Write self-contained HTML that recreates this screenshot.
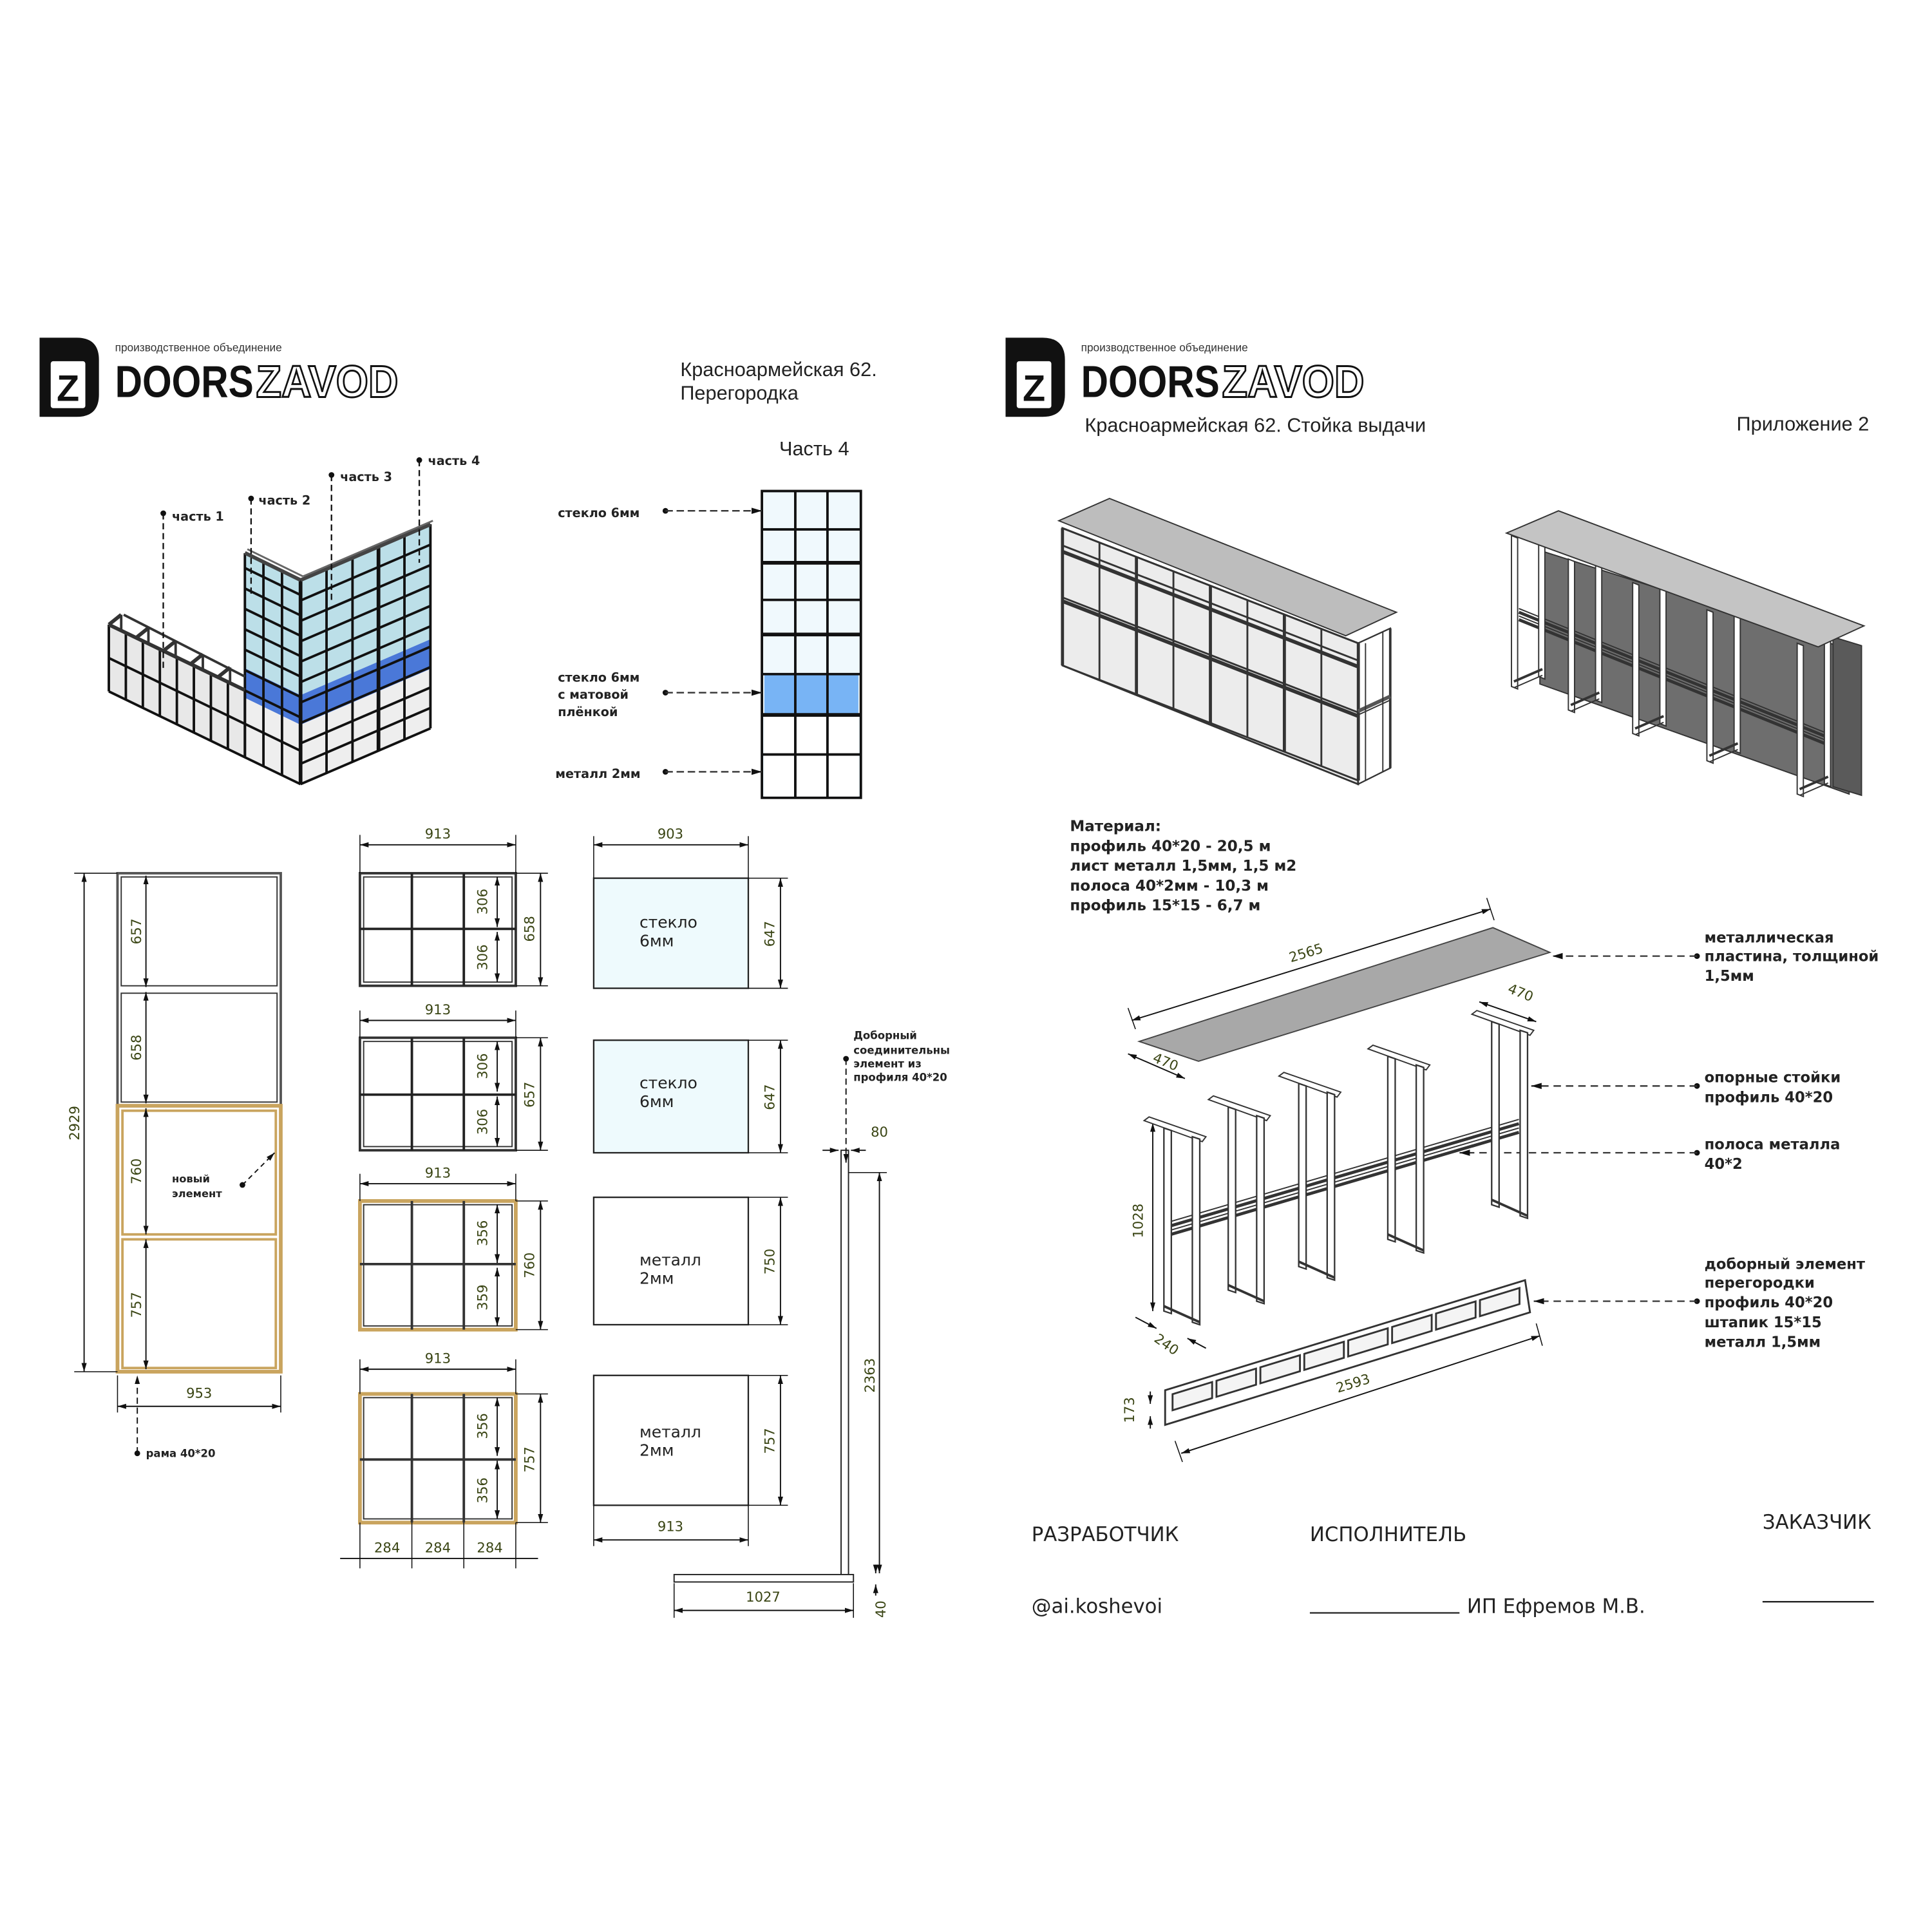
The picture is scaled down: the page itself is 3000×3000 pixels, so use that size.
<!DOCTYPE html>
<html><head><meta charset="utf-8"><style>
html,body{margin:0;padding:0;background:#fff}
svg{display:block}
text{font-family:"DejaVu Sans","Liberation Sans",sans-serif}
.t{font-family:"Liberation Sans",sans-serif}
.lb{font-size:10px;font-weight:bold;fill:#222}
.dm{font-size:11px;fill:#3a4514}
.sm{font-size:8.6px;font-weight:bold;fill:#222}
</style></head><body>
<svg id="s" width="3000" height="3000" viewBox="0 0 1562 1562" xmlns="http://www.w3.org/2000/svg">
<defs>
<marker id="a" viewBox="0 0 10 10" refX="10" refY="5" markerWidth="7" markerHeight="7" orient="auto-start-reverse"><path d="M0,2 L10,5 L0,8 z" fill="#111"/></marker>
</defs>
<rect width="1562" height="1562" fill="#fff"/>

<g id="logo1">
<path d="M32,273 H62 Q80,273 80,291 V319 Q80,337 62,337 H32 Z" fill="#111"/>
<rect x="41" y="292" width="28" height="38" rx="2" fill="#fff"/>
<text x="55" y="324" text-anchor="middle" class="t" style="font-size:30px;font-weight:900" fill="#111">Z</text>
<text x="93" y="284" class="t" style="font-size:9px" fill="#333">производственное объединение</text>
<text x="93" y="321" class="t" style="font-size:36px;font-weight:900" fill="#111" textLength="112" lengthAdjust="spacingAndGlyphs">DOORS</text>
<text x="207" y="321" class="t" style="font-size:36px;font-weight:900" fill="#fff" stroke="#111" stroke-width="1.5" textLength="115" lengthAdjust="spacingAndGlyphs">ZAVOD</text>
</g>
<use href="#logo1" transform="translate(781,0)"/>

<text x="550" y="304" class="t" style="font-size:16px" fill="#222">Красноармейская 62.</text>
<text x="550" y="323" class="t" style="font-size:16px" fill="#222">Перегородка</text>
<text x="630" y="368" class="t" style="font-size:16px" fill="#222">Часть 4</text>
<text x="877" y="349" class="t" style="font-size:16px" fill="#222">Красноармейская 62. Стойка выдачи</text>
<text x="1404" y="348" class="t" style="font-size:16px" fill="#222">Приложение 2</text>

<g class="lb">
<text x="139" y="421">часть 1</text><text x="209" y="408">часть 2</text>
<text x="275" y="389">часть 3</text><text x="346" y="376">часть 4</text>
</g>

<rect x="616" y="397" width="80" height="248" fill="#f0f9fd" stroke="#111" stroke-width="2"/>
<rect x="618" y="545" width="76" height="33" fill="#78b4f5"/>
<rect x="618" y="578" width="76" height="66" fill="#fff"/>
<g stroke="#111" stroke-width="2">
<line x1="616" y1="428" x2="696" y2="428"/><line x1="616" y1="455" x2="696" y2="455" stroke-width="3"/>
<line x1="616" y1="485" x2="696" y2="485"/><line x1="616" y1="513" x2="696" y2="513" stroke-width="3"/>
<line x1="616" y1="545" x2="696" y2="545"/><line x1="616" y1="578" x2="696" y2="578" stroke-width="3"/>
<line x1="616" y1="610" x2="696" y2="610"/>
<line x1="643" y1="397" x2="643" y2="645"/><line x1="669" y1="397" x2="669" y2="645"/>
</g>
<g class="lb">
<text x="451" y="418">стекло 6мм</text>
<text x="451" y="551">стекло 6мм</text><text x="451" y="565">с матовой</text><text x="451" y="579">плёнкой</text>
<text x="449" y="629">металл 2мм</text>
</g>

<rect x="95" y="706" width="132" height="188" fill="#fff" stroke="#555" stroke-width="2"/>
<rect x="98" y="709" width="126" height="88" fill="none" stroke="#333" stroke-width="1"/>
<rect x="98" y="803" width="126" height="88" fill="none" stroke="#333" stroke-width="1"/>
<rect x="95" y="894" width="132" height="215" fill="#fff" stroke="#c9a45e" stroke-width="3"/>
<rect x="99" y="898" width="124" height="100" fill="none" stroke="#c9a45e" stroke-width="2"/>
<rect x="99" y="1002" width="124" height="104" fill="none" stroke="#c9a45e" stroke-width="2"/>
<g class="dm">
<text transform="translate(64,908) rotate(-90)" text-anchor="middle">2929</text>
<text transform="translate(114,753) rotate(-90)" text-anchor="middle">657</text>
<text transform="translate(114,847) rotate(-90)" text-anchor="middle">658</text>
<text transform="translate(114,947) rotate(-90)" text-anchor="middle">760</text>
<text transform="translate(114,1055) rotate(-90)" text-anchor="middle">757</text>
<text x="161" y="1130" text-anchor="middle">953</text>
</g>
<text x="139" y="956" class="sm" style="font-size:8.5px" fill="#333">новый</text>
<text x="139" y="968" class="sm" style="font-size:8.5px" fill="#333">элемент</text>
<text x="118" y="1178" class="sm">рама 40*20</text>

<g id="mf" fill="none">
<rect x="291" y="706" width="126" height="91" stroke="#333" stroke-width="2"/>
<rect x="294" y="709" width="120" height="85" stroke="#333" stroke-width="1"/>
<g stroke="#222" stroke-width="2"><line x1="333" y1="706" x2="333" y2="797"/><line x1="375" y1="706" x2="375" y2="797"/><line x1="291" y1="751" x2="417" y2="751"/></g>
<rect x="291" y="839" width="126" height="91" stroke="#333" stroke-width="2"/>
<rect x="294" y="842" width="120" height="85" stroke="#333" stroke-width="1"/>
<g stroke="#222" stroke-width="2"><line x1="333" y1="839" x2="333" y2="930"/><line x1="375" y1="839" x2="375" y2="930"/><line x1="291" y1="885" x2="417" y2="885"/></g>
<rect x="291" y="971" width="126" height="104" stroke="#c9a45e" stroke-width="3"/>
<rect x="294" y="974" width="120" height="98" stroke="#333" stroke-width="1"/>
<g stroke="#333" stroke-width="2"><line x1="333" y1="971" x2="333" y2="1075"/><line x1="375" y1="971" x2="375" y2="1075"/><line x1="291" y1="1022" x2="417" y2="1022"/></g>
<rect x="291" y="1127" width="126" height="104" stroke="#c9a45e" stroke-width="3"/>
<rect x="294" y="1130" width="120" height="98" stroke="#333" stroke-width="1"/>
<g stroke="#333" stroke-width="2"><line x1="333" y1="1127" x2="333" y2="1231"/><line x1="375" y1="1127" x2="375" y2="1231"/><line x1="291" y1="1180" x2="417" y2="1180"/></g>
</g>
<g class="dm">
<text x="354" y="678" text-anchor="middle">913</text><text x="354" y="820" text-anchor="middle">913</text>
<text x="354" y="952" text-anchor="middle">913</text><text x="354" y="1102" text-anchor="middle">913</text>
<text transform="translate(432,751) rotate(-90)" text-anchor="middle">658</text>
<text transform="translate(432,885) rotate(-90)" text-anchor="middle">657</text>
<text transform="translate(432,1023) rotate(-90)" text-anchor="middle">760</text>
<text transform="translate(432,1180) rotate(-90)" text-anchor="middle">757</text>
<text transform="translate(394,729) rotate(-90)" text-anchor="middle">306</text>
<text transform="translate(394,774) rotate(-90)" text-anchor="middle">306</text>
<text transform="translate(394,862) rotate(-90)" text-anchor="middle">306</text>
<text transform="translate(394,907) rotate(-90)" text-anchor="middle">306</text>
<text transform="translate(394,997) rotate(-90)" text-anchor="middle">356</text>
<text transform="translate(394,1049) rotate(-90)" text-anchor="middle">359</text>
<text transform="translate(394,1153) rotate(-90)" text-anchor="middle">356</text>
<text transform="translate(394,1205) rotate(-90)" text-anchor="middle">356</text>
<text x="313" y="1255" text-anchor="middle">284</text><text x="354" y="1255" text-anchor="middle">284</text><text x="396" y="1255" text-anchor="middle">284</text>
</g>

<rect x="480" y="710" width="125" height="89" fill="#eefafd" stroke="#222" stroke-width="1.2"/>
<rect x="480" y="841" width="125" height="91" fill="#eefafd" stroke="#222" stroke-width="1.2"/>
<rect x="480" y="968" width="125" height="103" fill="#fff" stroke="#222" stroke-width="1.2"/>
<rect x="480" y="1112" width="125" height="105" fill="#fff" stroke="#222" stroke-width="1.2"/>
<g class="t" style="font-size:13px" fill="#222">
<text x="517" y="750">стекло</text><text x="517" y="765">6мм</text>
<text x="517" y="880">стекло</text><text x="517" y="895">6мм</text>
<text x="517" y="1023">металл</text><text x="517" y="1038">2мм</text>
<text x="517" y="1162">металл</text><text x="517" y="1177">2мм</text>
</g>
<g class="dm">
<text x="542" y="678" text-anchor="middle">903</text>
<text transform="translate(626,755) rotate(-90)" text-anchor="middle">647</text>
<text transform="translate(626,887) rotate(-90)" text-anchor="middle">647</text>
<text transform="translate(626,1020) rotate(-90)" text-anchor="middle">750</text>
<text transform="translate(626,1165) rotate(-90)" text-anchor="middle">757</text>
<text x="542" y="1238" text-anchor="middle">913</text>
<text transform="translate(707,1112) rotate(-90)" text-anchor="middle">2363</text>
<text x="617" y="1295" text-anchor="middle">1027</text>
<text x="704" y="919">80</text>
<text transform="translate(716,1301) rotate(-90)" text-anchor="middle">40</text>
</g>
<g class="sm"><text x="690" y="840">Доборный</text><text x="690" y="852">соединительны</text><text x="690" y="863">элемент из</text><text x="690" y="874">профиля 40*20</text></g>
<rect x="680" y="930" width="6" height="345" fill="#fff" stroke="#222" stroke-width="1"/>
<rect x="545" y="1273" width="145" height="6" fill="#fff" stroke="#222" stroke-width="1"/>

<g style="font-size:12px;font-weight:bold" fill="#222">
<text x="865" y="672">Материал:</text>
<text x="865" y="688">профиль 40*20 - 20,5 м</text>
<text x="865" y="704">лист металл 1,5мм, 1,5 м2</text>
<text x="865" y="720">полоса 40*2мм - 10,3 м</text>
<text x="865" y="736">профиль 15*15 - 6,7 м</text>
</g>
<g style="font-size:11.8px;font-weight:bold" fill="#222">
<text x="1378" y="762">металлическая</text><text x="1378" y="777">пластина, толщиной</text><text x="1378" y="793">1,5мм</text>
<text x="1378" y="875">опорные стойки</text><text x="1378" y="891">профиль 40*20</text>
<text x="1378" y="929">полоса металла</text><text x="1378" y="945">40*2</text>
<text x="1378" y="1026">доборный элемент</text><text x="1378" y="1041">перегородки</text><text x="1378" y="1057">профиль 40*20</text><text x="1378" y="1073">штапик 15*15</text><text x="1378" y="1089">металл 1,5мм</text>
</g>
<g class="dm">
<text transform="translate(1057,774) rotate(-17)" text-anchor="middle">2565</text>
<text transform="translate(1228,806) rotate(22)" text-anchor="middle">470</text>
<text transform="translate(941,862) rotate(22)" text-anchor="middle">470</text>
<text transform="translate(924,987) rotate(-90)" text-anchor="middle">1028</text>
<text transform="translate(941,1090) rotate(35)" text-anchor="middle">240</text>
<text transform="translate(1095,1122) rotate(-17)" text-anchor="middle">2593</text>
<text transform="translate(917,1140) rotate(-90)" text-anchor="middle">173</text>
</g>
<g class="t" style="font-size:16px" fill="#222">
<text x="834" y="1246">РАЗРАБОТЧИК</text><text x="1059" y="1246">ИСПОЛНИТЕЛЬ</text><text x="1425" y="1236">ЗАКАЗЧИК</text>
<text x="834" y="1304">@ai.koshevoi</text><text x="1186" y="1304">ИП Ефремов М.В.</text>
</g>
<line x1="1059" y1="1304" x2="1180" y2="1304" stroke="#222" stroke-width="1.2"/>
<line x1="1425" y1="1295" x2="1515" y2="1295" stroke="#222" stroke-width="1.2"/>

<polygon points="1098,520 1124,508 1124,621 1098,634" fill="#fff" stroke="#333" stroke-width="1.2"/>
<polygon points="859,427 1098,520 1098,634 859,538" fill="#ececec" stroke="#333" stroke-width="1.5"/>
<polygon points="856,421 897,403 1129,495 1088,514" fill="#bdbdbd" stroke="#333" stroke-width="1"/>
<polygon points="1245,445 1495,525 1495,642 1245,553" fill="#6e6e6e" stroke="#333"/>
<polygon points="1482,515 1505,522 1505,643 1482,636" fill="#5a5a5a" stroke="#333"/>
<g id="iso2"></g>
<polygon points="1218,431 1260,413 1507,506 1470,523" fill="#c4c4c4" stroke="#333" stroke-width="1"/>
<polygon points="921,842 1207,750 1253,770 969,858" fill="#a8a8a8" stroke="#444" stroke-width="1"/>
<polygon points="942,1124 1233,1035 1237,1061 942,1152" fill="#fff" stroke="#333" stroke-width="1.5"/>
<g id="dyn"></g>
</svg>
<script>
(function(){
var NS='http://www.w3.org/2000/svg',g=document.getElementById('dyn');
function L(x1,y1,x2,y2,w,c,d,m){var e=document.createElementNS(NS,'line');e.setAttribute('x1',x1);e.setAttribute('y1',y1);e.setAttribute('x2',x2);e.setAttribute('y2',y2);e.setAttribute('stroke',c||'#111');e.setAttribute('stroke-width',w||1);if(d)e.setAttribute('stroke-dasharray',d);if(m){e.setAttribute('marker-end','url(#a)');if(m==2)e.setAttribute('marker-start','url(#a)');}g.appendChild(e);}
function P(pts,f,s,w){var e=document.createElementNS(NS,'polygon');e.setAttribute('points',pts.map(function(p){return p.join(',')}).join(' '));e.setAttribute('fill',f);if(s){e.setAttribute('stroke',s);e.setAttribute('stroke-width',w||1);}g.appendChild(e);}
function C(x,y){var e=document.createElementNS(NS,'circle');e.setAttribute('cx',x);e.setAttribute('cy',y);e.setAttribute('r',2.3);e.setAttribute('fill','#111');g.appendChild(e);}
function lb(x){return 559+(x-88)*0.484;} function rb(x){return 634-(x-243)*0.43;}
function lp(x,h){return [x,lb(x)-h];} function rp(x,h){return [x,rb(x)-h];}
P([lp(88,54),lp(198,54),lp(198,0),lp(88,0)],'#e8e8e8');
P([lp(198,165),lp(243,165),lp(243,72),lp(198,72)],'#bcdfe8');
P([lp(198,72),lp(243,72),lp(243,48),lp(198,48)],'#4a78d8');
P([lp(198,48),lp(243,48),lp(243,0),lp(198,0)],'#eeeeee');
P([rp(243,165),rp(348,165),rp(348,72),rp(243,72)],'#bcdfe8');
P([rp(243,72),rp(348,72),rp(348,48),rp(243,48)],'#4a78d8');
P([rp(243,48),rp(348,48),rp(348,0),rp(243,0)],'#eeeeee');
var i,x,h;
for(x=88;x<=198.1;x+=13.75){var a=lp(x,0),b=lp(x,54);L(a[0],a[1],b[0],b[1],2);}
for(x=198;x<=243.1;x+=15){var a=lp(x,0),b=lp(x,165);L(a[0],a[1],b[0],b[1],2);}
[0,27,54].forEach(function(h){var a=lp(88,h),b=lp(243,h);L(a[0],a[1],b[0],b[1],2);});
for(h=70.5;h<=165.1;h+=16.5){var a=lp(198,h),b=lp(243,h);L(a[0],a[1],b[0],b[1],2);}
for(x=243;x<=348.1;x+=21){var a=rp(x,0),b=rp(x,165);L(a[0],a[1],b[0],b[1],x==306?3:2);}
for(h=0;h<=165.1;h+=16.5){var a=rp(243,h),b=rp(348,h);L(a[0],a[1],b[0],b[1],2);}
L(243,469,243,634,3);
L(88,505,198,558,3,'#333');L(100,497,198,547,2,'#333');
for(x=88;x<=190;x+=22){var y=lb(x)-54;L(x,y,x+10,y-8,3,'#333');L(x+10,y-8,x+10,y+4,2,'#333');}
L(198,447,243,469,3,'#444');L(243,469,348,424,3,'#444');L(200,444,245,466,1.5,'#666');L(245,466,350,421,1.5,'#666');
[[132,415,540],[203,403,480],[268,384,485],[339,372,455]].forEach(function(p){C(p[0],p[1]);L(p[0],p[1],p[0],p[2],1.2,'#111','5,3');});
[[538,413],[538,560],[538,624]].forEach(function(p){C(p[0],p[1]);L(p[0],p[1],616,p[1],1.2,'#333','6,3',1);});
L(68,706,68,1109,1,'#111',0,2);L(60,706,95,706,0.8);L(60,1109,95,1109,0.8);
[[706,800],[800,894],[894,1000],[1000,1109]].forEach(function(p){L(118,p[0]+2,118,p[1]-2,1,'#111',0,2);});
L(95,1137,227,1137,1,'#111',0,2);L(95,1112,95,1142,0.8);L(227,1112,227,1142,0.8);
C(111,1175);L(111,1175,111,1112,1,'#111','5,3',1);
C(196,958);L(196,958,222,932,1,'#111','4,3',1);
[[706,797,683],[839,930,825],[971,1075,957],[1127,1231,1107]].forEach(function(p){
 L(291,p[2],417,p[2],1,'#111',0,2);L(291,p[2]-8,291,p[0],0.8);L(417,p[2]-8,417,p[0],0.8);
 L(437,p[0],437,p[1],1,'#111',0,2);L(417,p[0],443,p[0],0.8);L(417,p[1],443,p[1],0.8);
 var m=(p[0]+p[1])/2;L(402,p[0]+3,402,m-2,1,'#111',0,2);L(402,m+2,402,p[1]-3,1,'#111',0,2);});
L(275,1260,435,1260,1);[291,333,375,417].forEach(function(x){L(x,1231,x,1268,0.8);});
L(480,683,605,683,1,'#111',0,2);L(480,676,480,710,0.8);L(605,676,605,710,0.8);
[[710,799],[841,932],[968,1071],[1112,1217]].forEach(function(p){L(631,p[0],631,p[1],1,'#111',0,2);L(605,p[0],637,p[0],0.8);L(605,p[1],637,p[1],0.8);});
L(480,1245,605,1245,1,'#111',0,2);L(480,1217,480,1250,0.8);L(605,1217,605,1250,0.8);
L(711,948,711,1272,1,'#111',0,2);L(686,948,717,948,0.8);
L(545,1302,690,1302,1,'#111',0,2);L(545,1280,545,1308,0.8);L(690,1280,690,1308,0.8);
L(665,930,678,930,1,'#111',0,1);L(700,930,688,930,1,'#111',0,1);
L(708,1265,708,1272,1,'#111',0,1);L(708,1290,708,1281,1,'#111',0,1);
C(684,856);L(684,856,684,940,1,'#111','5,3',1);
function f1(x,h){return [x,538+(x-859)*0.389-h];}
for(i=0;i<=8;i++){x=859+i*29.9;var a=f1(x,0),b=f1(x,111);L(a[0],a[1],b[0],b[1],i%2?1.5:2.5,'#333');}
[111,97,92,55,52,0].forEach(function(h){var a=f1(859,h),b=f1(1098,h);L(a[0],a[1],b[0],b[1],h==92||h==52?3:1.5,'#333');});
L(1124,508,1124,621,2,'#333');L(1098,575,1124,563,3,'#555');L(1098,578,1124,566,1,'#333');
L(1104,520,1104,631,1,'#333');L(1118,511,1118,624,1,'#333');
// iso2 (drawn under plate)
var g2=document.getElementById('iso2');var gs=g;g=g2;
for(i=0;i<4;i++){L(1228,492+i*3,1480,594+i*3,i%2?2.5:1,'#333');}
[[1222,433],[1268,452],[1320,471],[1380,493],[1453,520]].forEach(function(p){
 var x=p[0],y=p[1],H=122;
 P([[x+22,y-8],[x+27,y-6],[x+27,y-6+H],[x+22,y-8+H]],'#fff','#333',1);
 P([[x,y],[x+5,y+2],[x+5,y+2+H],[x,y+H]],'#fff','#333',1);
 L(x+2,y+H-4,x+25,y+H-14,2,'#333');L(x+2,y+H+1,x+25,y+H-9,1,'#333');});
g=gs;
for(i=0;i<4;i++){L(945,988+i*3.5,1228,905+i*3.5,i%2?2.5:1,'#333');}
[[1372,773,1255],[1372,878,1238],[1372,932,1180],[1372,1052,1240]].forEach(function(p){C(p[0],p[1]);L(p[0],p[1],p[2],p[1],1.2,'#333','6,4',1);});
L(915,825,1205,735,1,'#111',0,2);L(912,815,918,832,0.8);L(1202,726,1208,744,0.8);
L(1196,810,1242,826,1,'#111',0,2);L(912,852,958,872,1,'#111',0,2);
L(932,908,932,1060,1,'#111',0,2);
L(955,1175,1245,1080,1,'#111',0,2);L(950,1165,956,1182,0.8);L(1242,1070,1247,1088,0.8);
L(930,1125,930,1135,1,'#111',0,1);L(930,1155,930,1145,1,'#111',0,1);
L(918,1065,935,1074,1,'#111',0,1);L(975,1090,960,1082,1,'#111',0,1);
[[925,906,160],[977,889,160],[1034,870,160],[1106,848,160],[1190,820,160]].forEach(function(p){
 var x=p[0],y=p[1],H=p[2];
 P([[x,y],[x+4,y-3],[x+50,y+13],[x+47,y+17]],'#fff','#333',1);
 P([[x+16,y+6],[x+22,y+8],[x+22,y+8+H-12],[x+16,y+6+H-12]],'#fff','#333',1.2);
 P([[x+39,y+13],[x+45,y+15],[x+45,y+15+H-10],[x+39,y+13+H-10]],'#fff','#333',1.2);
 L(x+16,y+6+H-16,x+45,y+15+H-12,2,'#333');});
for(i=0;i<8;i++){var x1=948+i*35.5,x2=x1+32;var s=-0.306;
 P([[x1,1127+(x1-942)*s+2],[x2,1127+(x2-942)*s+2],[x2,1127+(x2-942)*s+15],[x1,1127+(x1-942)*s+15]],'#f4f4f4','#333',1.5);}
})();
</script>
</body></html>
